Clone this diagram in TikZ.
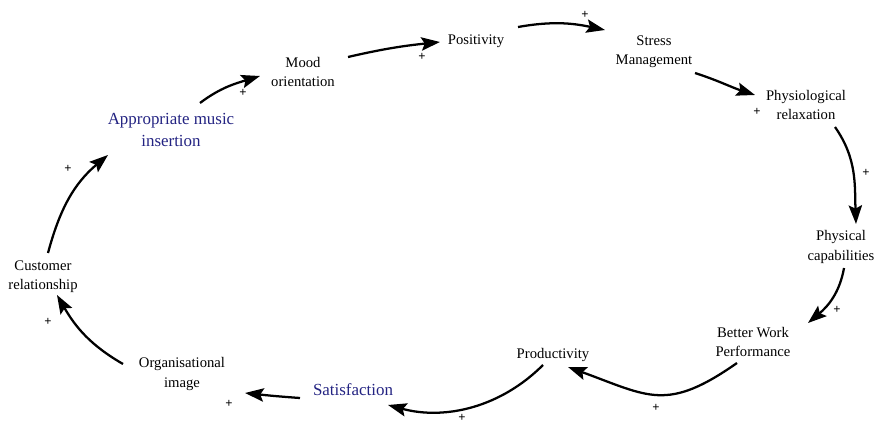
\documentclass[tikz,border=0pt]{standalone}
\usepackage{fontspec}
\setmainfont{Liberation Serif}
\usetikzlibrary{arrows.meta}
\definecolor{navy}{RGB}{35,35,130}
\begin{document}
\begin{tikzpicture}[x=0.75pt,y=0.75pt,
  lbl/.style={align=center,font=\fontsize{11}{14.3}\selectfont,inner sep=1pt},
  blbl/.style={align=center,font=\fontsize{12.7}{17}\selectfont,text=navy,inner sep=1pt},
  pl/.style={font=\fontsize{9.5}{9.5}\selectfont\bfseries,inner sep=0pt},
  arr/.style={line width=1.7pt,-{Stealth[length=14pt,width=10pt,inset=2.5pt]}}]
\useasboundingbox (0,0) rectangle (875,-423);
% nodes
\node[blbl] (A)  at (171,-130) {Appropriate music\\insertion};
\node[lbl]  (M)  at (303,-72)  {Mood\\orientation};
\node[lbl]  (P)  at (476,-41)  {Positivity};
\node[lbl]  (S)  at (654,-52)  {Stress\\Management};
\node[lbl]  (PR) at (806,-105) {Physiological\\relaxation};
\node[lbl]  (PC) at (841,-247) {Physical\\capabilities};
\node[lbl]  (B)  at (753,-342) {Better Work\\Performance};
\node[lbl]  (PD) at (553,-355) {Productivity};
\node[blbl] (SA) at (353,-390) {Satisfaction};
\node[lbl]  (O)  at (182,-374) {Organisational\\image};
\node[lbl]  (C)  at (43,-277)  {Customer\\relationship};
% connectors
\draw[arr] ([shift={(29,27)}]A.center) to[out=37,in=197] ([shift={(-43,-4)}]M.center);
\draw[arr] ([shift={(45,15)}]M.center) to[out=13,in=186] ([shift={(-36,-1)}]P.center);
\draw[arr] ([shift={(42,14)}]P.center) to[out=10,in=168] ([shift={(-49,22)}]S.center);
\draw[arr] ([shift={(41,-21)}]S.center) to[out=-18,in=162] ([shift={(-51,10)}]PR.center);
\draw[arr] ([shift={(29,-22)}]PR.center) to[out=-55,in=92] ([shift={(15,23)}]PC.center);
\draw[arr] ([shift={(3,-21)}]PC.center) to[out=-100,in=40] ([shift={(55,19)}]B.center);
\draw[arr] ([shift={(-16,-21)}]B.center) to[out=215,in=-20,looseness=1.3] ([shift={(15,-12)}]PD.center);
\draw[arr] ([shift={(-10,-10)}]PD.center) to[out=225,in=-15,looseness=0.95] ([shift={(35,-15)}]SA.center);
\draw[arr] ([shift={(-53,-8)}]SA.center) to[out=176,in=-6] ([shift={(63,-19)}]O.center);
\draw[arr] ([shift={(-59,10)}]O.center) to[out=150,in=-60] ([shift={(14,-18)}]C.center);
\draw[arr] ([shift={(5,24)}]C.center) to[out=75,in=220] ([shift={(-63,-25)}]A.center);
% polarity signs
\node[pl] (p1)  at (243,-93)  {+};
\node[pl] (p2)  at (422,-57)  {+};
\node[pl] (p3)  at (585,-15)  {+};
\node[pl] (p4)  at (757,-112) {+};
\node[pl] (p5)  at (866,-173) {+};
\node[pl] (p6)  at (837,-310) {+};
\node[pl] (p7)  at (656,-408) {+};
\node[pl] (p8)  at (462,-418) {+};
\node[pl] (p9)  at (229,-404) {+};
\node[pl] (p10) at (48,-322)  {+};
\node[pl] (p11) at (68,-169)  {+};
\end{tikzpicture}
\end{document}
